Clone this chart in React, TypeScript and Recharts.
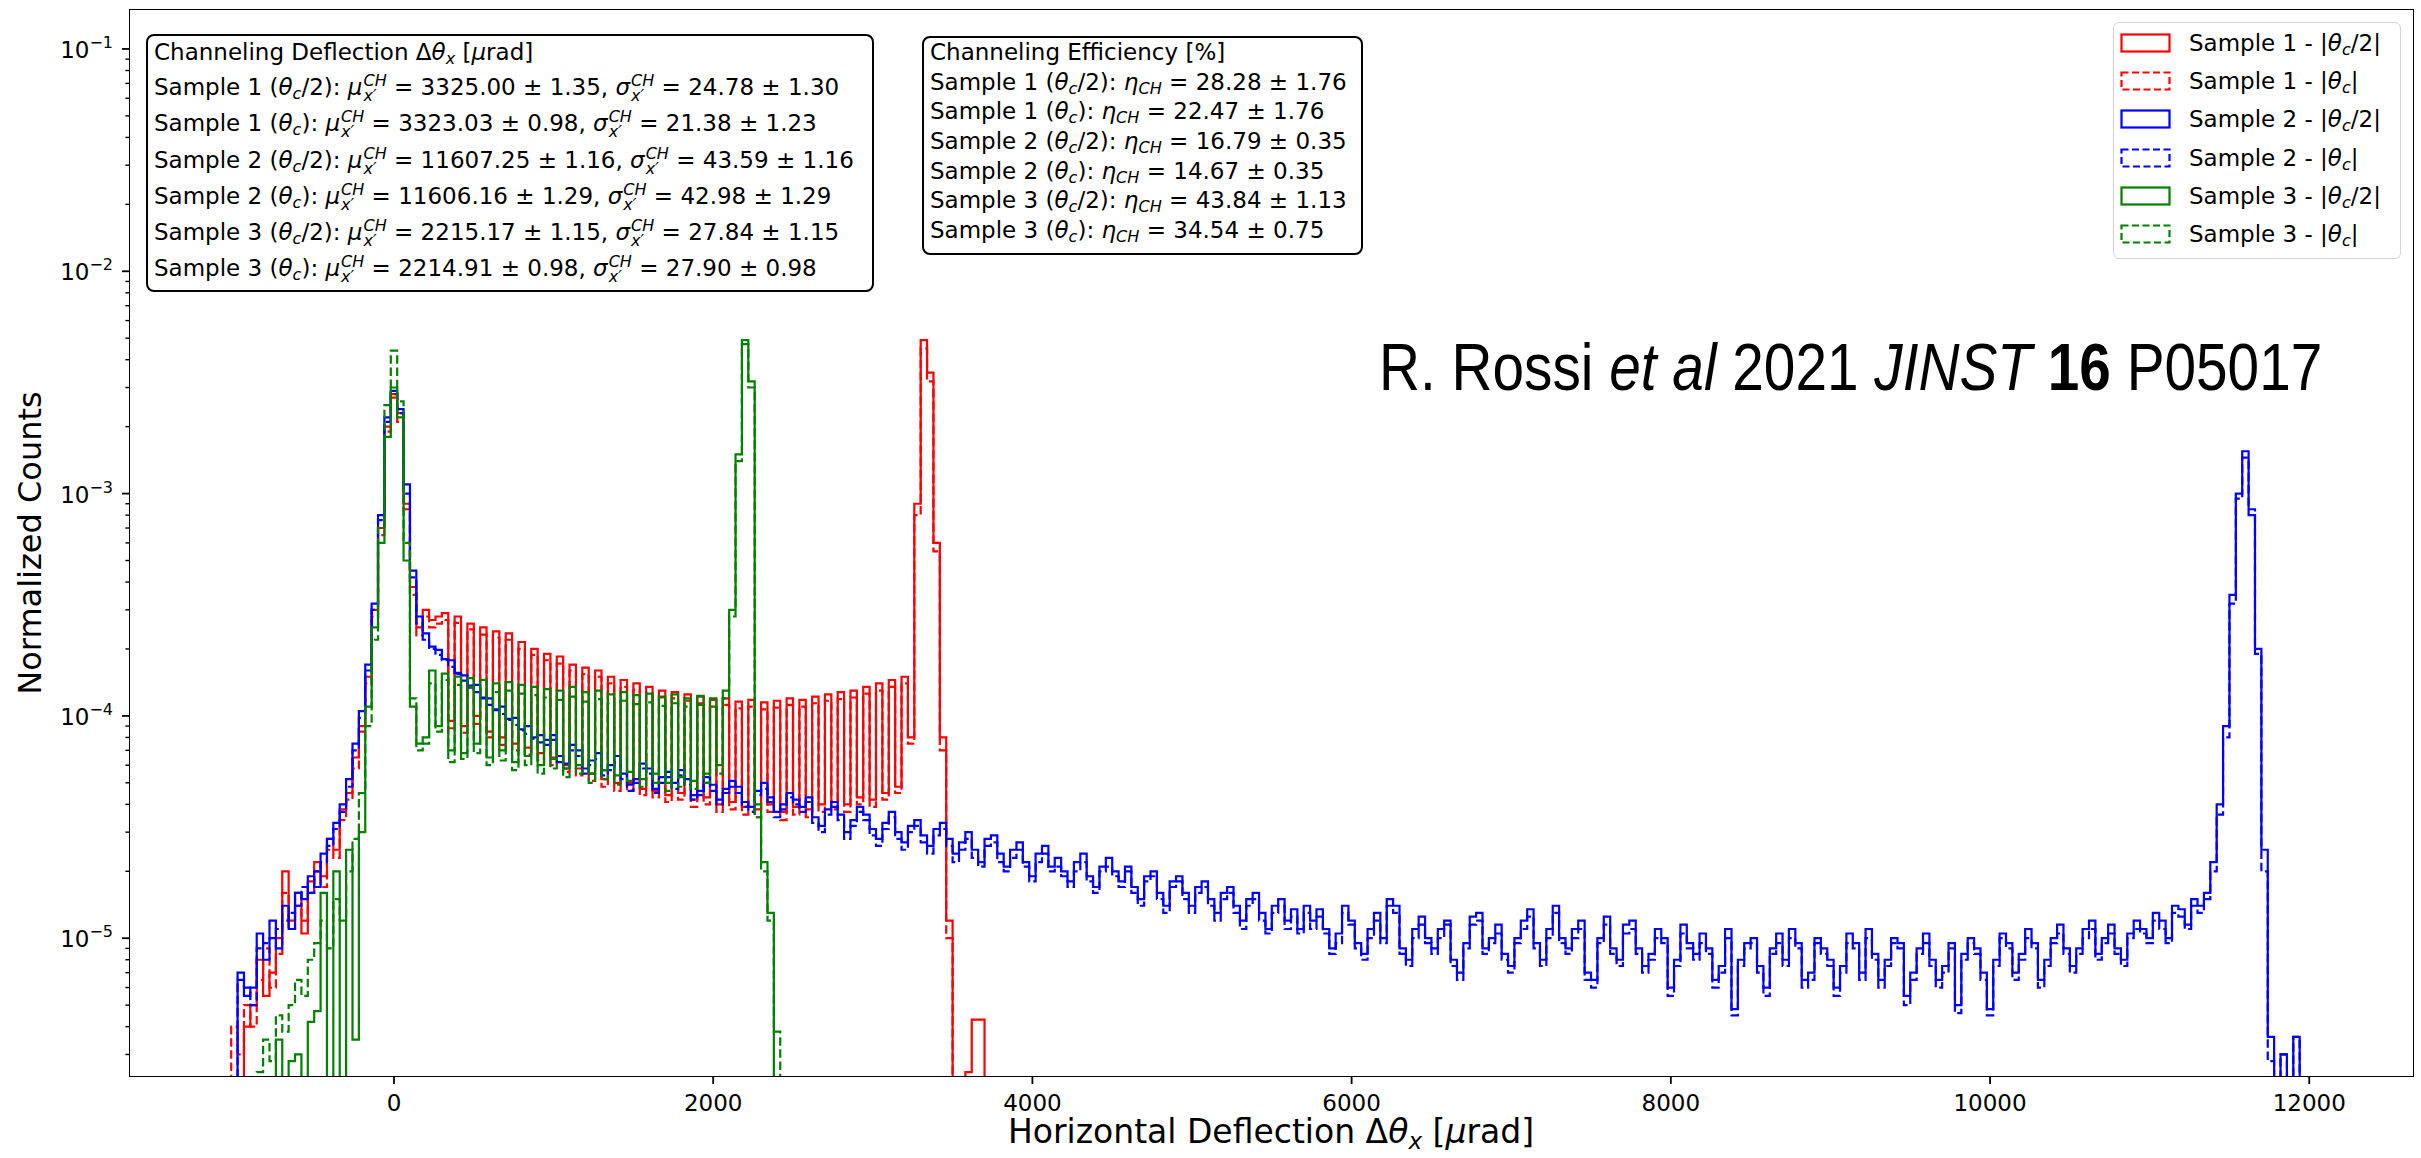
import React from 'react';
import { LineChart, Line, XAxis, YAxis } from 'recharts';

// ---------- binning ----------
const BIN_START = -1020; // left edge of first bin [µrad]
const BIN_WIDTH = 40; // µrad
const VALUE_UNIT = 1e-6; // values below are in units of 1e-6 (normalized counts)
const FLOOR = 1e-9; // empty bin (drawn below the axis, like log(0))

// ---------- series values (normalized counts x 1e-6, per bin) ----------
const sample1Half = [
  0, 0, 4, 5, 8, 5.5, 7, 10, 20, 12,
  16, 10.5, 18, 22, 19, 28, 25, 38, 45, 65,
  90, 150, 300, 700, 2000, 2800, 2300, 900, 380, 250,
  300, 270, 280, 290, 95, 280, 90, 260, 100, 250,
  85, 240, 80, 235, 75, 215, 72, 200, 68, 190,
  65, 185, 60, 170, 58, 165, 55, 160, 52, 150,
  50, 145, 50, 140, 47, 135, 46, 130, 44, 128,
  45, 125, 42, 122, 43, 118, 40, 120, 41, 116,
  39, 118, 38, 115, 40, 117, 37, 120, 39, 118,
  38, 122, 40, 125, 41, 128, 40, 130, 43, 135,
  42, 140, 45, 145, 48, 150, 80, 900, 4900, 3500,
  600, 80, 12, 0, 0, 2.5, 4.3, 4.3,
];

const sample1Full = [
  4, 3, 5, 4, 6.5, 9, 6, 8.5, 16, 11,
  14, 12, 16, 20, 17, 25, 23, 34, 42, 58,
  85, 140, 280, 650, 1900, 2700, 2100, 850, 350, 230,
  280, 250, 260, 270, 88, 262, 84, 245, 92, 232,
  80, 225, 74, 220, 70, 200, 67, 188, 63, 178,
  60, 172, 56, 160, 54, 154, 51, 150, 48, 140,
  46, 135, 46, 131, 44, 126, 43, 121, 41, 120,
  42, 117, 39, 114, 40, 110, 37, 112, 38, 108,
  36, 110, 35, 107, 37, 109, 34, 112, 36, 110,
  35, 114, 37, 117, 38, 119, 37, 121, 40, 126,
  39, 130, 42, 135, 45, 140, 75, 800, 4500, 3200,
  550, 70, 10,
];

const sample2Half = [
  0, 7, 5.5, 6, 10.5, 8, 12, 9, 14, 11,
  16, 15, 19, 17, 24, 28, 33, 40, 52, 75,
  105, 170, 320, 800, 2200, 2900, 2400, 1100, 450, 280,
  235, 205, 198, 180, 178, 156, 152, 137, 138, 121,
  120, 107, 110, 97, 98, 87, 90, 80, 82,
  78, 82, 66, 61, 74, 70, 58, 63, 68, 57,
  60, 66, 55, 49, 52, 61, 58, 47, 53, 56,
  50, 57, 52, 44, 46, 53, 49, 42, 47, 51,
  48, 41, 39, 46, 50, 43, 37, 40, 45, 42,
  39, 43, 35, 32, 38, 41, 36, 30, 34, 39,
  36, 31, 28, 33, 37, 30, 27, 32, 34, 29,
  26, 31, 33, 28, 24, 27, 30, 25, 22, 28,
  29, 24, 21, 25, 27, 22, 19, 24, 26, 21,
  23, 20, 18, 22, 24, 19, 17, 21, 23, 20,
  18, 21, 17, 15, 19, 20, 16, 14, 18, 19,
  16, 14, 17, 18, 15, 13, 16, 17, 14, 12,
  15, 16, 13, 11, 14, 15, 12, 13.5, 11, 14,
  12, 13.5, 11, 9, 10.5, 14, 12, 9.5, 8.5, 11,
  13, 10, 15, 14, 9, 8, 11, 12.5, 10, 9,
  11, 12, 8, 7, 9.5, 12.5, 13, 9, 10, 11.5,
  8.5, 7.5, 10, 12, 13.5, 9.5, 8, 11, 14, 10,
  9, 11, 12, 7, 6.5, 10, 12.5, 9, 8, 11.5,
  12, 9, 7.5, 8.5, 11, 10, 6, 8, 11.5, 9.5,
  8.5, 10.5, 9, 6.5, 7.5, 11, 4.8, 8, 9.5, 10,
  7.5, 6, 9, 10.5, 8, 11, 9.5, 6.5, 7, 10,
  9, 8, 6, 7.5, 10.5, 9.5, 7, 11, 8.5, 6.5,
  8, 10, 9.5, 5.5, 7, 9, 10.5, 8, 6.5, 7.5,
  9.5, 5, 8.5, 10, 9, 7, 4.8, 8, 10.5, 9.5,
  7, 8.5, 11, 9.5, 6.5, 8, 10, 11.5, 9, 7.5,
  9, 11, 12, 8.5, 10, 11.5, 9, 8, 10.5, 12,
  11, 10, 13, 12, 10, 14, 13.5, 11.5, 15, 14,
  16, 22, 40,
  90, 350, 1000, 1550, 800, 200, 25, 3.6, 0, 3, 0, 3.6,
];

const sample2Full = [
  0, 6.5, 6, 5, 9, 9.5, 10, 11, 12, 13,
  14, 17, 16, 20, 22, 26, 31, 37, 48, 70,
  98, 160, 300, 760, 2100, 2800, 2300, 1000, 420, 260,
  220, 200, 188, 178, 166, 154, 144, 134, 128, 120,
  112, 106, 102, 96, 91, 86, 83, 79, 76,
  74, 78, 62, 58, 70, 66, 55, 60, 64, 54,
  57, 62, 52, 46, 50, 58, 55, 45, 50, 53,
  47, 54, 49, 42, 44, 50, 46, 40, 45, 48,
  45, 39, 37, 44, 47, 41, 35, 38, 43, 40,
  37, 41, 33, 30, 36, 39, 34, 28, 32, 37,
  34, 29, 26, 31, 35, 28, 25, 30, 32, 27,
  24, 29, 31, 26, 22, 25, 28, 23, 21, 26,
  27, 22, 20, 23, 25, 21, 18, 22, 24, 20,
  21, 19, 17, 20, 22, 18, 16, 20, 21, 19,
  17, 20, 16, 14, 18, 19, 15, 13, 17, 18,
  15, 13, 16, 17, 14, 12, 15, 16, 13, 11,
  14, 15, 12, 10.5, 13, 14, 11, 12.5, 10.5, 13,
  11, 12.5, 10.5, 8.5, 9.5, 13, 11.5, 9, 8, 10,
  12, 9.5, 14, 13, 8.5, 7.5, 10, 11.5, 9.5, 8.5,
  10, 11.5, 7.5, 6.5, 9, 11.5, 12, 8.5, 9.5, 10.5,
  8, 7, 9.5, 11, 12.5, 9, 7.5, 10, 13, 9.5,
  8.5, 10, 11, 6.5, 6, 9.5, 11.5, 8.5, 7.5, 10.5,
  11, 8.5, 7, 8, 10, 9.5, 5.5, 7.5, 10.5, 9,
  8, 9.5, 8.5, 6, 7, 10, 4.5, 7.5, 9, 9.5,
  7, 5.5, 8.5, 9.5, 7.5, 10, 9, 6, 6.5, 9.5,
  8.5, 7.5, 5.5, 7, 9.5, 9, 6.5, 10, 8, 6,
  7.5, 9.5, 9, 5, 6.5, 8.5, 9.5, 7.5, 6, 7,
  9, 4.6, 8, 9.5, 8.5, 6.5, 4.5, 7.5, 10, 9,
  6.5, 8, 10, 9, 6, 7.5, 9.5, 10.5, 8.5, 7,
  8.5, 10, 11, 8, 9.5, 10.5, 8.5, 7.5, 10, 11,
  10.5, 9.5, 12, 11, 9.5, 13, 12.5, 11, 14, 13,
  15, 20, 36,
  80, 320, 950, 1450, 850, 190, 20, 2.8, 0, 3, 0, 3.6,
];

const sample3Half = [
  0, 0, 0, 0, 0, 0, 0, 3.5, 0, 2.8,
  3, 0, 4.2, 4.7, 16, 0, 20, 0, 25, 3.5,
  30, 110, 250, 600, 1800, 3000, 2200, 500, 110, 75,
  80, 160, 90, 155, 70, 150, 68, 148, 75, 145,
  65, 140, 70, 142, 62, 138, 66, 135, 60, 132,
  64, 130, 58, 135, 60, 128, 55, 130, 57, 125,
  54, 128, 56, 124, 52, 126, 55, 122, 50, 125,
  53, 120, 51, 123, 55, 120, 60, 130, 300, 1500,
  4900, 3200, 40, 22, 13,
];

const sample3Full = [
  0, 0, 0, 0, 2.5, 3.5, 2.8, 4.5, 3.8, 5,
  6.5, 5.5, 8, 9.5, 12, 9, 15, 12, 20, 28,
  45, 90, 220, 700, 2500, 4400, 2600, 600, 120, 70,
  75, 140, 85, 145, 62, 138, 64, 135, 68, 132,
  60, 128, 63, 130, 57, 126, 60, 124, 55, 121,
  58, 118, 53, 122, 55, 116, 50, 119, 52, 114,
  49, 117, 51, 113, 48, 115, 50, 111, 46, 114,
  48, 110, 47, 112, 50, 110, 55, 120, 280, 1400,
  4700, 3000, 35, 20, 12, 3.8,
];

// ---------- axes ----------
const xTicks = [0, 2000, 4000, 6000, 8000, 10000, 12000];
const yDecades = [-6, -5, -4, -3, -2, -1];
const X_DOMAIN = [-1654, 12650];
const Y_DOMAIN = [2.4e-6, 0.1497];

// ---------- text boxes ----------
const deflectionRows = [
  { sample: 'Sample 1', half: true, mu: '3325.00', muErr: '1.35', sigma: '24.78', sigmaErr: '1.30' },
  { sample: 'Sample 1', half: false, mu: '3323.03', muErr: '0.98', sigma: '21.38', sigmaErr: '1.23' },
  { sample: 'Sample 2', half: true, mu: '11607.25', muErr: '1.16', sigma: '43.59', sigmaErr: '1.16' },
  { sample: 'Sample 2', half: false, mu: '11606.16', muErr: '1.29', sigma: '42.98', sigmaErr: '1.29' },
  { sample: 'Sample 3', half: true, mu: '2215.17', muErr: '1.15', sigma: '27.84', sigmaErr: '1.15' },
  { sample: 'Sample 3', half: false, mu: '2214.91', muErr: '0.98', sigma: '27.90', sigmaErr: '0.98' },
];
const efficiencyRows = [
  { sample: 'Sample 1', half: true, eta: '28.28', err: '1.76' },
  { sample: 'Sample 1', half: false, eta: '22.47', err: '1.76' },
  { sample: 'Sample 2', half: true, eta: '16.79', err: '0.35' },
  { sample: 'Sample 2', half: false, eta: '14.67', err: '0.35' },
  { sample: 'Sample 3', half: true, eta: '43.84', err: '1.13' },
  { sample: 'Sample 3', half: false, eta: '34.54', err: '0.75' },
];

const series = [
  { key: 's1h', sample: 'Sample 1', half: true, color: '#ff0000', dashed: false, values: sample1Half },
  { key: 's1f', sample: 'Sample 1', half: false, color: '#ff0000', dashed: true, values: sample1Full },
  { key: 's2h', sample: 'Sample 2', half: true, color: '#0000ff', dashed: false, values: sample2Half },
  { key: 's2f', sample: 'Sample 2', half: false, color: '#0000ff', dashed: true, values: sample2Full },
  { key: 's3h', sample: 'Sample 3', half: true, color: '#008000', dashed: false, values: sample3Half },
  { key: 's3f', sample: 'Sample 3', half: false, color: '#008000', dashed: true, values: sample3Full },
];

const FONT = "'DejaVu Sans', sans-serif";
const DASH = '8.5 3.7';

const toSteps = (vals: number[]) => {
  const pts: { x: number; y: number }[] = [{ x: BIN_START, y: FLOOR }];
  vals.forEach((v, i) => pts.push({ x: BIN_START + i * BIN_WIDTH, y: v > 0 ? v * VALUE_UNIT : FLOOR }));
  pts.push({ x: BIN_START + vals.length * BIN_WIDTH, y: FLOOR });
  return pts;
};

const yTicks: number[] = [];
yDecades.forEach((d) => {
  for (let m = 1; m <= 9; m++) {
    const v = m * Math.pow(10, d);
    if (v >= Y_DOMAIN[0] && v <= Y_DOMAIN[1]) yTicks.push(v);
  }
});

const YTick = (props: any) => {
  const { x, y, payload } = props;
  const v = payload.value;
  const lg = Math.log10(v);
  const e = Math.round(lg);
  const major = Math.abs(lg - e) < 1e-6;
  const len = major ? 8 : 4.6;
  return (
    <g>
      <line x1={x - len} x2={x} y1={y} y2={y} stroke="#000" strokeWidth={major ? 1.8 : 1.4} />
      {major && (
        <text x={x - 17} y={y + 9} textAnchor="end" fontSize={23} fontFamily={FONT} fill="#000">
          10
          <tspan dy={-10} fontSize={16}>{'\u2212' + String(-e)}</tspan>
        </text>
      )}
    </g>
  );
};

const XTick = (props: any) => {
  const { x, y, payload } = props;
  return (
    <g>
      <line x1={x} x2={x} y1={y} y2={y + 8} stroke="#000" strokeWidth={1.8} />
      <text x={x} y={y + 35} textAnchor="middle" fontSize={23} fontFamily={FONT} fill="#000">
        {String(payload.value)}
      </text>
    </g>
  );
};

const Th = ({ half }: { half: boolean }) => (
  <>
    <i>θ</i>
    <span style={{ fontSize: '0.7em', fontStyle: 'italic', verticalAlign: '-0.22em' }}>c</span>
    {half ? '/2' : ''}
  </>
);

const SupSub = ({ sup, sub }: { sup: string; sub: string }) => (
  <span
    style={{
      display: 'inline-block',
      verticalAlign: '-6px',
      lineHeight: '15px',
      fontSize: '16px',
      fontStyle: 'italic',
      marginLeft: 1,
    }}
  >
    <span style={{ display: 'block' }}>{sup}</span>
    <span style={{ display: 'block' }}>{sub}</span>
  </span>
);

const Legend = () => (
  <div
    style={{
      position: 'absolute',
      left: 2113,
      top: 22,
      width: 288,
      height: 237,
      border: '1.5px solid #d4d4d4',
      borderRadius: 6,
      background: 'rgba(255,255,255,0.8)',
      boxSizing: 'border-box',
      fontFamily: FONT,
      fontSize: 23,
      color: '#000',
    }}
  >
    {series.map((s, k) => {
      const cy = 20 + k * 38.2;
      return (
        <div key={s.key} style={{ position: 'absolute', left: 0, top: cy - 15, height: 30, width: '100%' }}>
          <svg width={60} height={30} style={{ position: 'absolute', left: 6, top: 0 }}>
            <rect
              x={1.5}
              y={6.5}
              width={48}
              height={17}
              fill="none"
              stroke={s.color}
              strokeWidth={2.2}
              strokeDasharray={s.dashed ? '7 3.5' : undefined}
            />
          </svg>
          <div style={{ position: 'absolute', left: 75, top: 0, lineHeight: '30px', whiteSpace: 'nowrap' }}>
            {s.sample} - |<Th half={s.half} />|
          </div>
        </div>
      );
    })}
  </div>
);

const DeflectionBox = () => (
  <div
    style={{
      position: 'absolute',
      left: 146,
      top: 34,
      width: 728,
      height: 258,
      border: '2px solid #000',
      borderRadius: 8,
      boxSizing: 'border-box',
      background: '#fff',
      fontFamily: FONT,
      fontSize: 23,
      color: '#000',
      whiteSpace: 'nowrap',
    }}
  >
    <div style={{ position: 'absolute', left: 6, top: -1 }}>
      <div style={{ height: 34, lineHeight: '34px' }}>
        Channeling Deflection Δ<i>θ</i>
        <span style={{ fontSize: '0.7em', fontStyle: 'italic', verticalAlign: '-0.22em' }}>x</span> [<i>μ</i>rad]
      </div>
      {deflectionRows.map((r, k) => (
        <div key={k} style={{ height: 36.3, lineHeight: '36px' }}>
          {r.sample} (<Th half={r.half} />): <i>μ</i>
          <SupSub sup="CH" sub="x′" /> = {r.mu} ± {r.muErr}, <i>σ</i>
          <SupSub sup="CH" sub="x′" /> = {r.sigma} ± {r.sigmaErr}
        </div>
      ))}
    </div>
  </div>
);

const EfficiencyBox = () => (
  <div
    style={{
      position: 'absolute',
      left: 922,
      top: 36,
      width: 441,
      height: 219,
      border: '2px solid #000',
      borderRadius: 8,
      boxSizing: 'border-box',
      background: '#fff',
      fontFamily: FONT,
      fontSize: 23,
      color: '#000',
      whiteSpace: 'nowrap',
    }}
  >
    <div style={{ position: 'absolute', left: 6, top: -1 }}>
      <div style={{ height: 29.7, lineHeight: '30px' }}>Channeling Efficiency [%]</div>
      {efficiencyRows.map((r, k) => (
        <div key={k} style={{ height: 29.7, lineHeight: '30px' }}>
          {r.sample} (<Th half={r.half} />): <i>η</i>
          <span style={{ fontSize: '0.7em', fontStyle: 'italic', verticalAlign: '-0.25em' }}>CH</span> = {r.eta} ± {r.err}
        </div>
      ))}
    </div>
  </div>
);

export default function App() {
  return (
    <div style={{ position: 'absolute', left: 0, top: 0, width: 2421, height: 1158, background: '#fff', overflow: 'hidden' }}>
      <LineChart width={2421} height={1158} margin={{ top: 10, right: 8, bottom: 0, left: 0 }}>
        <XAxis
          type="number"
          dataKey="x"
          domain={X_DOMAIN}
          allowDataOverflow
          ticks={xTicks}
          interval={0}
          tickSize={0}
          tickMargin={0}
          tickLine={false}
          axisLine={false}
          height={82}
          tick={<XTick />}
        />
        <YAxis
          type="number"
          scale="log"
          domain={Y_DOMAIN}
          allowDataOverflow
          ticks={yTicks}
          interval={0}
          tickSize={0}
          tickMargin={0}
          tickLine={false}
          axisLine={false}
          width={130}
          tick={<YTick />}
        />
        {series.map((s) => (
          <Line
            key={s.key}
            data={toSteps(s.values)}
            dataKey="y"
            type="stepAfter"
            stroke={s.color}
            strokeWidth={2.2}
            strokeDasharray={s.dashed ? DASH : undefined}
            dot={false}
            activeDot={false}
            isAnimationActive={false}
          />
        ))}
      </LineChart>
      {/* plot frame */}
      <div
        style={{
          position: 'absolute',
          left: 129,
          top: 9,
          width: 2285,
          height: 1068,
          border: '1.8px solid #000',
          boxSizing: 'border-box',
          pointerEvents: 'none',
        }}
      />
      <svg width={2421} height={1158} style={{ position: 'absolute', left: 0, top: 0, pointerEvents: 'none' }}>
        <text
          transform="rotate(-90)"
          x={-543}
          y={41}
          textAnchor="middle"
          fontSize={32}
          fontFamily={FONT}
          fill="#000"
        >
          Normalized Counts
        </text>
        <text x={1271} y={1143} textAnchor="middle" fontSize={33} fontFamily={FONT} fill="#000">
          Horizontal Deflection Δ<tspan fontStyle="italic">θ</tspan>
          <tspan fontStyle="italic" fontSize={23} dy={6}>x</tspan>
          <tspan dy={-6}> [</tspan>
          <tspan fontStyle="italic">μ</tspan>rad]
        </text>
        <text
          transform="translate(1379,390) scale(0.86,1)"
          x={0}
          y={0}
          fontSize={66}
          fontFamily="'Liberation Sans', Arial, sans-serif"
          fill="#000"
        >
          R. Rossi <tspan fontStyle="italic">et al</tspan> 2021 <tspan fontStyle="italic">JINST</tspan>{' '}
          <tspan fontWeight="bold">16</tspan> P05017
        </text>
      </svg>
      <DeflectionBox />
      <EfficiencyBox />
      <Legend />
    </div>
  );
}
